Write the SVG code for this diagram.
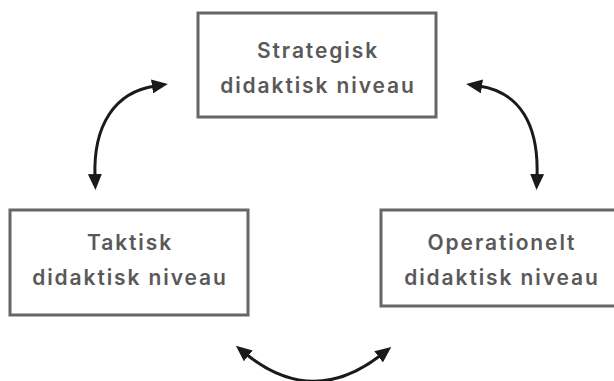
<svg xmlns="http://www.w3.org/2000/svg" width="614" height="381" viewBox="0 0 614 381">
<style>
.box{fill:#fff;stroke:#666;stroke-width:3}
.lbl{font-family:Inter,"Open Sans","Liberation Sans",sans-serif;font-size:21px;font-weight:600;fill:#595959;text-anchor:middle;letter-spacing:1.9px}
.arc{fill:none;stroke:#1a1a1a;stroke-width:3;marker-start:url(#ah);marker-end:url(#ah)}
</style>
<defs>
<marker id="ah" viewBox="0 0 16 14" markerWidth="16" markerHeight="14" refX="3" refY="7" orient="auto-start-reverse" markerUnits="userSpaceOnUse">
<path d="M0,0 L16,7 L0,14 z" fill="#1a1a1a"/>
</marker>
</defs>
<rect width="614" height="381" fill="#fff"/>
<g id="strategisk">
<rect class="box" x="198" y="13" width="238" height="104"/>
<text class="lbl" x="318" y="58">Strategisk</text>
<text class="lbl" x="318" y="93">didaktisk niveau</text>
</g>
<g id="taktisk">
<rect class="box" x="10" y="210" width="238" height="105"/>
<text class="lbl" x="130" y="250">Taktisk</text>
<text class="lbl" x="130" y="285">didaktisk niveau</text>
</g>
<g id="operationelt">
<rect class="box" x="381" y="210" width="240" height="96"/>
<text class="lbl" x="502" y="250">Operationelt</text>
<text class="lbl" x="502" y="285">didaktisk niveau</text>
</g>
<g id="connectors">
<path class="arc" d="M95 177 C93 125 115 92 155 86"/>
<path class="arc" d="M479 86 C520 92 539 125 537 177"/>
<path class="arc" d="M246 354 Q313 408 381 355"/>
</g>
</svg>
